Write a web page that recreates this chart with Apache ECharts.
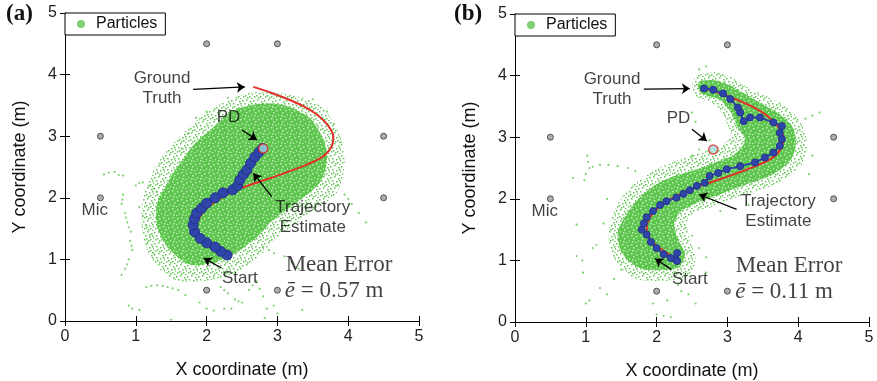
<!DOCTYPE html>
<html>
<head>
<meta charset="utf-8">
<script src="https://cdn.jsdelivr.net/npm/echarts@6/dist/echarts.min.js"></script>
<style>
  html, body { margin: 0; padding: 0; background: #fff; }
  #chart { width: 877px; height: 381px; }
</style>
</head>
<body>
<div id="chart"></div>
<script>
// ---- data (metres) ----
const axisTicks = [0, 1, 2, 3, 4, 5];

const micPos = [[2, 4.5], [3, 4.5], [0.5, 3], [4.5, 3], [0.5, 2], [4.5, 2], [2, 0.5], [3, 0.5]];
const pdPos = [[2.8, 2.8]];

// ground truth path (same in both panels)
const groundTruth = [
  [2.28, 1.02], [2.12, 1.14], [1.98, 1.26], [1.88, 1.4], [1.86, 1.55], [1.92, 1.72],
  [2.05, 1.88], [2.25, 2.03], [2.5, 2.16], [2.8, 2.28], [3.1, 2.4], [3.4, 2.53],
  [3.63, 2.66], [3.76, 2.82], [3.79, 3.0], [3.71, 3.18], [3.57, 3.34], [3.38, 3.48],
  [3.15, 3.6], [2.9, 3.71], [2.66, 3.8]
];

// (a) estimate
const trajA = [
  [2.29, 1.07], [2.2, 1.13], [2.12, 1.2], [2.0, 1.27], [1.91, 1.34], [1.83, 1.45],
  [1.81, 1.56], [1.83, 1.66], [1.86, 1.75], [1.93, 1.83], [2.0, 1.91], [2.12, 2.0],
  [2.23, 2.08], [2.37, 2.13], [2.44, 2.2], [2.47, 2.29], [2.52, 2.38], [2.57, 2.45],
  [2.62, 2.56], [2.68, 2.66], [2.74, 2.74], [2.79, 2.8]
];
// (b) estimate
const trajB = [
  [2.29, 1.12], [2.27, 1.02], [2.29, 0.99], [2.2, 1.04], [2.1, 1.1], [2.0, 1.2],
  [1.92, 1.3], [1.86, 1.42], [1.79, 1.5], [1.82, 1.6], [1.86, 1.7], [1.95, 1.8],
  [2.05, 1.9], [2.14, 1.96], [2.28, 2.02], [2.38, 2.08], [2.47, 2.14], [2.57, 2.21],
  [2.68, 2.26], [2.75, 2.37], [2.87, 2.42], [2.99, 2.48], [3.18, 2.53], [3.39, 2.59],
  [3.53, 2.67], [3.65, 2.75], [3.74, 2.86], [3.77, 2.97], [3.74, 3.07], [3.77, 3.18],
  [3.65, 3.24], [3.46, 3.32], [3.32, 3.32], [3.23, 3.26], [3.18, 3.4], [3.15, 3.48],
  [3.04, 3.62], [2.94, 3.71], [2.8, 3.77], [2.67, 3.79]
];

// particle cloud outlines (dense core + sparse halo)
const coreA = [
  [1.75, 0.92], [2.1, 0.95], [2.4, 1.1], [2.7, 1.35], [2.95, 1.65], [3.3, 1.95],
  [3.6, 2.25], [3.7, 2.6], [3.65, 2.95], [3.45, 3.3], [3.1, 3.5], [2.7, 3.52],
  [2.35, 3.4], [2.1, 3.15], [1.85, 2.9], [1.65, 2.6], [1.45, 2.25], [1.3, 1.9],
  [1.3, 1.55], [1.45, 1.2]
];
const haloA = [
  [1.6, 0.65], [2.2, 0.7], [2.65, 0.95], [3.0, 1.35], [3.45, 1.75], [3.85, 2.1],
  [3.95, 2.6], [3.85, 3.1], [3.6, 3.5], [3.15, 3.68], [2.6, 3.7], [2.15, 3.5],
  [1.8, 3.2], [1.5, 2.85], [1.25, 2.45], [1.1, 1.95], [1.1, 1.4], [1.25, 0.95]
];
const coreB = [
  [1.85, 0.85], [2.3, 0.88], [2.4, 1.1], [2.3, 1.35], [2.25, 1.6], [2.35, 1.8],
  [2.6, 1.95], [2.95, 2.1], [3.3, 2.25], [3.65, 2.4], [3.9, 2.65], [3.97, 2.95],
  [3.9, 3.2], [3.7, 3.4], [3.4, 3.6], [3.1, 3.8], [2.85, 3.92], [2.6, 3.9],
  [2.62, 3.72], [2.9, 3.6], [3.05, 3.4], [3.15, 3.15], [3.25, 2.95], [3.1, 2.72],
  [2.8, 2.58], [2.5, 2.45], [2.2, 2.35], [1.95, 2.2], [1.7, 1.95], [1.55, 1.7],
  [1.45, 1.45], [1.5, 1.15], [1.65, 0.95]
];
const haloB = [
  [1.7, 0.7], [2.4, 0.72], [2.55, 1.0], [2.45, 1.4], [2.45, 1.7], [2.8, 1.88],
  [3.2, 2.05], [3.7, 2.25], [4.05, 2.55], [4.12, 2.95], [4.0, 3.3], [3.75, 3.55],
  [3.3, 3.8], [2.9, 4.05], [2.55, 3.98], [2.52, 3.7], [2.85, 3.5], [2.98, 3.25],
  [3.05, 3.0], [2.75, 2.8], [2.35, 2.65], [1.95, 2.45], [1.6, 2.15], [1.4, 1.8],
  [1.32, 1.4], [1.42, 1.0]
];

// straggling particles
const trailsA = [
  [0.55, 2.38], [0.62, 2.41], [0.7, 2.42], [0.76, 2.37], [0.82, 2.36],
  [0.82, 2.05], [0.8, 1.9], [0.85, 1.75], [0.88, 1.6], [0.93, 1.45], [0.92, 1.3],
  [0.95, 1.15], [0.9, 1.0], [0.85, 0.85], [0.8, 0.75], [0.81, 1.97], [0.86, 1.68],
  [0.9, 1.52], [0.94, 1.22], [0.88, 0.92],
  [1.0, 2.2], [1.1, 2.25], [1.2, 2.2], [1.3, 2.1], [1.05, 2.24], [1.25, 2.15],
  [1.1, 1.7], [1.15, 1.55], [1.2, 1.4], [1.15, 1.25], [1.25, 1.1], [1.05, 1.85],
  [1.15, 0.55], [1.3, 0.58], [1.45, 0.55], [1.6, 0.5], [1.7, 0.42], [1.22, 0.57],
  [1.38, 0.57], [1.52, 0.53],
  [2.1, 0.7], [2.2, 0.55], [2.3, 0.45], [2.4, 0.35], [2.35, 0.2], [2.5, 0.3],
  [2.6, 0.5], [2.7, 0.65], [2.8, 0.4], [2.85, 0.2], [2.82, 0.05], [2.25, 0.5],
  [2.45, 0.32], [2.65, 0.58], [2.75, 0.52],
  [2.8, 1.2], [2.95, 1.1], [3.1, 1.05], [3.2, 0.95], [3.3, 0.85], [2.88, 1.15],
  [0.9, 0.25], [0.95, 0.2], [1.05, 0.18], [1.5, 0.02], [1.9, 0.3], [2.0, 0.2],
  [2.1, 0.17], [2.25, 0.2], [2.95, 0.25], [3.0, 0.12], [3.35, 0.18],
  [3.85, 2.2], [3.95, 2.05], [4.05, 1.9], [4.15, 1.75], [4.25, 1.6], [4.0, 1.98],
  [3.7, 3.4], [3.5, 3.6], [3.8, 3.2], [1.75, 3.05], [1.85, 3.3], [1.65, 2.8],
  [2.3, 3.62], [2.0, 3.4], [3.9, 2.9]
];
const trailsB = [
  [1.02, 2.7], [1.03, 2.6], [1.05, 2.5], [1.0, 2.4], [0.98, 2.3], [1.1, 2.52],
  [1.2, 2.55], [1.32, 2.55], [1.45, 2.53], [1.6, 2.5], [1.7, 2.45], [0.82, 2.34],
  [0.87, 1.58], [0.87, 1.07], [0.95, 1.0], [0.96, 0.8], [1.1, 1.2], [1.15, 1.25],
  [1.2, 0.55], [1.3, 0.45], [1.05, 0.35], [1.0, 0.3], [2.0, 0.12], [2.1, 0.1],
  [2.2, 0.08], [2.45, 0.45], [2.6, 0.65], [2.7, 0.8], [2.55, 0.3], [2.5, 1.4],
  [2.6, 1.2], [2.7, 1.05], [4.2, 3.35], [4.3, 3.4], [4.1, 3.3], [2.6, 4.1],
  [2.7, 4.15], [2.6, 2.8], [2.5, 2.7], [2.75, 2.95], [2.5, 3.4], [2.55, 3.25],
  [1.5, 0.85], [1.4, 0.7], [2.3, 0.6], [2.35, 0.5], [1.95, 0.3], [2.15, 0.35],
  [4.15, 2.4], [4.2, 2.7], [1.3, 2.0], [1.25, 1.6], [3.3, 1.9], [2.9, 1.8]
];

const meanErrors = ['0.57', '0.11'];
const panelTags = ['(a)', '(b)'];

// ---- styling ----
const GREEN = '#5ec64e';
const BLUE = '#2f45aa';
const RED = '#e0312b';
const SANS = 'Liberation Sans, Arial, sans-serif';
const SERIF = 'Liberation Serif, Times New Roman, serif';

// speckled fills so the clouds read as many small particles
function speckle(size, bg, dot, pts) {
  const c = document.createElement('canvas');
  c.width = c.height = size;
  const g = c.getContext('2d');
  if (bg) { g.fillStyle = bg; g.fillRect(0, 0, size, size); }
  g.fillStyle = dot;
  pts.forEach(p => g.fillRect(p[0], p[1], 1.5, 1.5));
  return { image: c, repeat: 'repeat' };
}
const HALO_FILL = speckle(11, null, GREEN,
  [[0, 1], [4, 0], [8, 2], [2, 4], [6, 5], [10, 6], [1, 8], [5, 9], [9, 10], [3, 7], [7, 8], [9, 4]]);
const CORE_FILL = speckle(9, GREEN, '#c2ebb9', [[1, 1], [6, 2], [3, 4], [8, 6], [2, 7], [5, 8]]);

const grids = [
  { left: 65, top: 13, width: 354, height: 308, outerBoundsMode: 'none' },
  { left: 515, top: 14, width: 354, height: 308, outerBoundsMode: 'none' }
];

const chart = echarts.init(document.getElementById('chart'));

function blob(outline, fill, idx, z) {
  return {
    type: 'custom', xAxisIndex: idx * 2, yAxisIndex: idx * 2,
    data: outline, silent: true, z: z,
    renderItem: function (params, api) {
      if (params.dataIndex !== 0) return null;
      return {
        type: 'polygon',
        shape: { points: outline.map(p => api.coord(p)), smooth: 0.3 },
        style: { fill: fill }
      };
    }
  };
}

function annotations(idx) {
  const txt = { fontFamily: SANS, fontSize: 17, color: '#111', lineHeight: 20 };
  const items = [
    { value: [1.37, 3.77], label: { formatter: 'Ground\nTruth' } },
    { value: [2.31, 3.3], label: { formatter: 'PD' } },
    { value: idx ? [3.72, 1.79] : [3.5, 1.69], label: { formatter: 'Trajectory\nEstimate' } },
    { value: [2.47, 0.69], label: { formatter: 'Start' } },
    { value: [0.42, 1.8], label: { formatter: 'Mic' } },
    { value: [3.87, 0.91], label: { formatter: 'Mean Error', fontFamily: SERIF, fontSize: 23 } },
    { value: [3.8, 0.48], label: { formatter: '{i|ē} = ' + meanErrors[idx] + ' m', fontFamily: SERIF, fontSize: 23,
        rich: { i: { fontFamily: SERIF, fontSize: 23, fontStyle: 'italic' } } } }
  ];
  const arrows = idx ? [
    [[1.82, 3.78], [2.47, 3.79]],
    [[2.5, 3.13], [2.71, 2.94]],
    [[3.13, 1.83], [2.6, 2.07]],
    [[2.21, 0.85], [1.98, 1.03]]
  ] : [
    [[1.81, 3.76], [2.54, 3.8]],
    [[2.5, 3.1], [2.71, 2.94]],
    [[2.92, 2.02], [2.66, 2.4]],
    [[2.21, 0.86], [1.96, 1.02]]
  ];
  return {
    type: 'scatter', xAxisIndex: idx * 2, yAxisIndex: idx * 2, z: 8,
    symbolSize: 1, itemStyle: { color: 'rgba(0,0,0,0)' }, silent: true,
    label: Object.assign({ show: true, position: 'inside', align: 'center' }, txt),
    data: items,
    markLine: {
      silent: true, animation: false, symbol: ['none', 'arrow'], symbolSize: 8,
      lineStyle: { color: '#000', width: 1.3, type: 'solid' },
      label: { show: false },
      data: arrows.map(a => [{ coord: a[0] }, { coord: a[1] }])
    }
  };
}

function panel(idx, core, halo, trails, traj, thick) {
  const ax = { xAxisIndex: idx * 2, yAxisIndex: idx * 2 };
  return [
    blob(halo, HALO_FILL, idx, 1),
    blob(core, CORE_FILL, idx, 2),
    Object.assign({ type: 'scatter', name: 'Particles', data: trails, symbolSize: 2.2,
      itemStyle: { color: GREEN }, z: 3, silent: true }, ax),
    Object.assign({ type: 'line', data: groundTruth, smooth: 0.3, showSymbol: false,
      lineStyle: { color: RED, width: 2 }, z: 4, silent: true }, ax),
    Object.assign({ type: 'line', data: traj, symbol: 'circle', symbolSize: thick ? 10 : 7,
      lineStyle: { color: BLUE, width: thick ? 6 : 2 },
      itemStyle: { color: BLUE, borderColor: '#23348a', borderWidth: 1 }, z: 5, silent: true }, ax),
    Object.assign({ type: 'scatter', data: pdPos, symbolSize: 9,
      itemStyle: { color: '#a6dede', borderColor: RED, borderWidth: 1.5 }, z: 6, silent: true }, ax),
    Object.assign({ type: 'scatter', data: micPos, symbolSize: 6,
      itemStyle: { color: '#9a9a9a', borderColor: '#333', borderWidth: 1 }, z: 6, silent: true }, ax),
    annotations(idx)
  ];
}

const xAxes = [], yAxes = [];
grids.forEach((g, i) => {
  const base = {
    gridIndex: i, type: 'value', min: 0, max: 5, interval: 1,
    axisLine: { show: true, lineStyle: { color: '#000', width: 1 } },
    axisTick: { show: true, inside: true, length: 5, lineStyle: { color: '#000' } },
    splitLine: { show: false },
    axisLabel: { fontFamily: SANS, fontSize: 16, color: '#222',
      formatter: v => axisTicks.includes(v) ? String(v) : '' }
  };
  xAxes.push(Object.assign({}, base, {
    position: 'bottom', name: 'X coordinate (m)', nameLocation: 'middle', nameGap: 40,
    nameTextStyle: { fontFamily: SANS, fontSize: 18, color: '#111' }
  }));
  xAxes.push(Object.assign({}, base, { position: 'top', axisLabel: { show: false } }));
  yAxes.push(Object.assign({}, base, {
    position: 'left', name: 'Y coordinate (m)', nameLocation: 'middle', nameGap: 36,
    nameTextStyle: { fontFamily: SANS, fontSize: 18, color: '#111' }
  }));
  yAxes.push(Object.assign({}, base, { position: 'right', axisLabel: { show: false } }));
});

chart.setOption({
  animation: false,
  backgroundColor: '#fff',
  grid: grids,
  xAxis: xAxes,
  yAxis: yAxes,
  legend: grids.map(g => ({
    left: g.left, top: g.top, z: 20, selectedMode: false,
    data: ['Particles'], icon: 'circle', itemWidth: 8, itemHeight: 8,
    backgroundColor: '#fff', borderColor: '#000', borderWidth: 1, borderRadius: 0,
    padding: [3, 8, 3, 12],
    textStyle: { fontFamily: SANS, fontSize: 16, color: '#111', padding: [0, 0, 0, 6] }
  })),
  graphic: panelTags.map((t, i) => ({
    type: 'text', left: i ? 454 : 6, top: 3, z: 30,
    style: { text: t, font: 'bold 23px ' + SERIF, fill: '#111' }
  })),
  series: [].concat(
    panel(0, coreA, haloA, trailsA, trajA, true),
    panel(1, coreB, haloB, trailsB, trajB, false)
  )
});
</script>
</body>
</html>
